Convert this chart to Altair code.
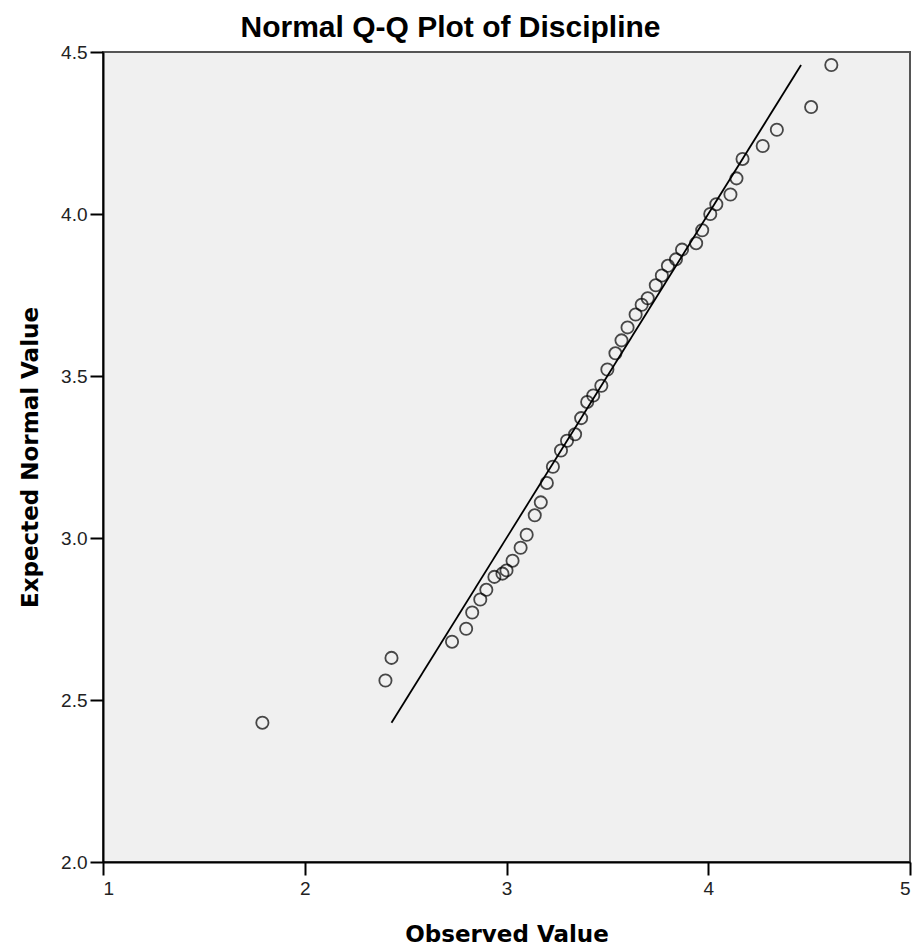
import altair as alt
import pandas as pd

# Observed values and their expected normal quantiles
observed = [1.79, 2.40, 2.43, 2.73, 2.80, 2.83, 2.87, 2.90, 2.94, 2.98, 3.00,
            3.03, 3.07, 3.10, 3.14, 3.17, 3.20, 3.23, 3.27, 3.30, 3.34, 3.37,
            3.40, 3.43, 3.47, 3.50, 3.54, 3.57, 3.60, 3.64, 3.67, 3.70, 3.74,
            3.77, 3.80, 3.84, 3.87, 3.94, 3.97, 4.01, 4.04, 4.11, 4.14, 4.17,
            4.27, 4.34, 4.51, 4.61]
expected = [2.43, 2.56, 2.63, 2.68, 2.72, 2.77, 2.81, 2.84, 2.88, 2.89, 2.90,
            2.93, 2.97, 3.01, 3.07, 3.11, 3.17, 3.22, 3.27, 3.30, 3.32, 3.37,
            3.42, 3.44, 3.47, 3.52, 3.57, 3.61, 3.65, 3.69, 3.72, 3.74, 3.78,
            3.81, 3.84, 3.86, 3.89, 3.91, 3.95, 4.00, 4.03, 4.06, 4.11, 4.17,
            4.21, 4.26, 4.33, 4.46]

# Reference line y = x
ref_x = [2.43, 4.46]
ref_y = [2.43, 4.46]

x_ticks = [1, 2, 3, 4, 5]
y_ticks = [2.0, 2.5, 3.0, 3.5, 4.0, 4.5]

pts = pd.DataFrame({"obs": observed, "exp": expected})
ref = pd.DataFrame({"obs": ref_x, "exp": ref_y})

FONT = "Liberation Sans"
TITLE_FONT = "DejaVu Sans"

x_enc = alt.X("obs:Q", scale=alt.Scale(domain=[1, 5], nice=False, zero=False),
              axis=alt.Axis(values=x_ticks, format="d", title="Observed Value",
                            tickSize=13, labelPadding=4, titlePadding=25))
y_enc = alt.Y("exp:Q", scale=alt.Scale(domain=[2.0, 4.5], nice=False, zero=False),
              axis=alt.Axis(values=y_ticks, format=".1f", title="Expected Normal Value",
                            tickSize=13, labelPadding=3, titlePadding=18))

points = alt.Chart(pts).mark_point(
    shape="circle", filled=False, color="black", size=150, strokeWidth=1.8
).encode(x=x_enc, y=y_enc)

line = alt.Chart(ref).mark_line(color="black", strokeWidth=1.8).encode(
    x=x_enc, y=y_enc
)

chart = alt.layer(line, points).properties(
    width=807, height=810,
    padding={"left": 103, "top": 52, "right": 9, "bottom": 87},
    autosize=alt.AutoSizeParams(type="none"),
    background="white",
    title=alt.TitleParams("Normal Q-Q Plot of Discipline", font=FONT, fontSize=30,
                          fontWeight="bold", color="black", anchor="middle",
                          dx=-56, offset=0),
).configure_view(
    fill="#F0F0F0", stroke="#555555", strokeWidth=2
).configure_axis(
    grid=False, domainColor="black", domainWidth=2, tickColor="black", tickWidth=2,
    labelFont=FONT, labelFontSize=19, labelColor="#222222",
    titleFont=TITLE_FONT, titleFontSize=23, titleFontWeight="bold", titleColor="black",
)

chart.save("out.html", embed_options={"renderer": "svg", "actions": False})
